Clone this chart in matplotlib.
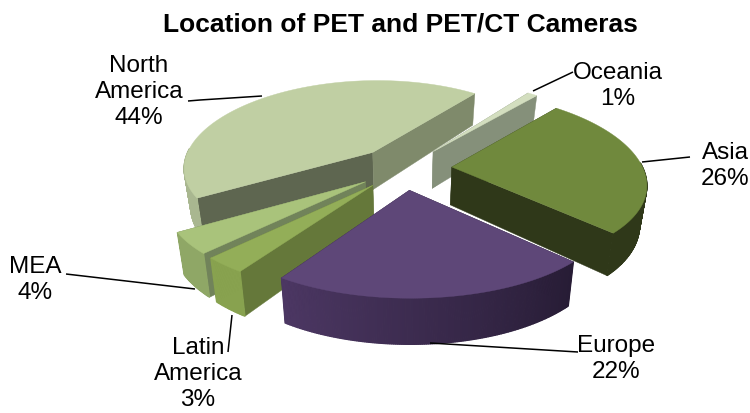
import numpy as np
import matplotlib
matplotlib.use("Agg")
import matplotlib.pyplot as plt
from matplotlib.colors import to_rgb
from matplotlib.patches import Polygon

plt.rcParams['font.family'] = ['Liberation Sans', 'DejaVu Sans']

# ---- data (clockwise order as in the pie)
categories = ["Oceania", "Asia", "Europe", "Latin America", "MEA", "North America"]
values = [1, 26, 22, 3, 4, 44]
title = "Location of PET and PET/CT Cameras"

# ---- styles per slice
top_colors = ["#D3DEBF", "#70893D", "#5E4778", "#93AE58", "#A9C37B", "#C0CFA3"]
start_face = ["#85907A", "#2F3819", "#2A1E38", "#65783A", "#71835A", "#5E6650"]
end_face = ["#85907A", "#2F3819", "#2A1E38", "#65783A", "#71835A", "#7F8A6B"]
rim_start = ["#85907A", "#2F3819", "#271C35", "#88A24F", "#8FA766", "#A9B790"]
rim_end = ["#85907A", "#2F3819", "#4C3763", "#88A24F", "#8FA766", "#A9B790"]
draw_order = [5, 0, 4, 3, 1, 2]

START = 37.0     # clockwise from north
CX, CY = 404.0, 168.0
R = 191.0
EXPLODE = 48.0
DEPTH = 38.0
KX, KY = 0.17, 0.14
SY = 0.45


def project(x, y, z):
    """x, y in px on the pie plane (y to the back), z down in units of depth."""
    wx = 1 + KX * y / R
    wy = 1 + KY * y / R
    sx = CX + x / wx * (1 - 0.03 * z)
    sy = CY - SY * y / wy + z * DEPTH * (1 - 0.0009 * y)
    return sx, sy


def arc_pts(a0, a1, ox, oy, z, n):
    th = np.radians(np.linspace(a0, a1, n))
    return project(ox + R * np.sin(th), oy + R * np.cos(th), z)


fig = plt.figure(figsize=(7.5, 4.13), dpi=100)
ax = fig.add_axes([0, 0, 1, 1])
ax.set_xlim(0, 750)
ax.set_ylim(413, 0)
ax.axis("off")

fracs = np.array(values) / sum(values)
ends = START + np.cumsum(fracs) * 360
starts = ends - fracs * 360

for i in draw_order:
    a0, a1 = starts[i], ends[i]
    mid = np.radians((a0 + a1) / 2)
    ox, oy = EXPLODE * np.sin(mid), EXPLODE * np.cos(mid)
    apex_t = project(ox, oy, 0)
    apex_b = project(ox, oy, 1)
    # radial faces
    for ang, col in ((a0, start_face[i]), (a1, end_face[i])):
        pt = arc_pts(ang, ang, ox, oy, 0, 1)
        pb = arc_pts(ang, ang, ox, oy, 1, 1)
        ax.add_patch(Polygon([apex_t, (pt[0][0], pt[1][0]), (pb[0][0], pb[1][0]), apex_b],
                             closed=True, fc=col, ec=col, lw=0.3))
    # rim with gradient: only the part that faces the viewer
    n = max(int(a1 - a0) * 2, 4)
    angs = np.linspace(a0, a1, n)
    xt, yt = arc_pts(a0, a1, ox, oy, 0, n)
    xb, yb = arc_pts(a0, a1, ox, oy, 1, n)
    c0, c1 = np.array(to_rgb(rim_start[i])), np.array(to_rgb(rim_end[i]))
    for k in range(n - 1):
        if np.cos(np.radians((angs[k] + angs[k + 1]) / 2)) > 0.05:
            continue
        c = c0 + (c1 - c0) * k / (n - 2)
        ax.add_patch(Polygon([(xt[k], yt[k]), (xt[k + 1], yt[k + 1]),
                              (xb[k + 1], yb[k + 1]), (xb[k], yb[k])],
                             closed=True, fc=c, ec=c, lw=0.9))
    # top
    xt, yt = arc_pts(a0, a1, ox, oy, 0, max(n, 30))
    ax.add_patch(Polygon([apex_t] + list(zip(xt, yt)), closed=True,
                         fc=top_colors[i], ec=top_colors[i], lw=0.3))

ax.text(400, 25, title, ha="center", va="center", fontsize=19, fontweight="bold", color="black")

labels = [
    ("North\nAmerica\n44%", 139, 92, [(188, 101), (200, 100), (262, 96)]),
    ("Oceania\n1%", 618, 86, [(533, 91), (573, 72)]),
    ("Asia\n26%", 725, 166, [(642, 162), (690, 157)]),
    ("Europe\n22%", 616, 359, [(430, 343), (578, 352)]),
    ("Latin\nAmerica\n3%", 198, 374, [(232, 315), (228, 352)]),
    ("MEA\n4%", 35, 280, [(195, 289), (66, 274)]),
]
for txt, x, y, line in labels:
    ax.text(x, y, txt, ha="center", va="center", fontsize=17.5, color="black", linespacing=1.22)
    ax.plot([p[0] for p in line], [p[1] for p in line], color="black", lw=1.1, solid_capstyle="butt")

fig.savefig("out.png", dpi=100)
